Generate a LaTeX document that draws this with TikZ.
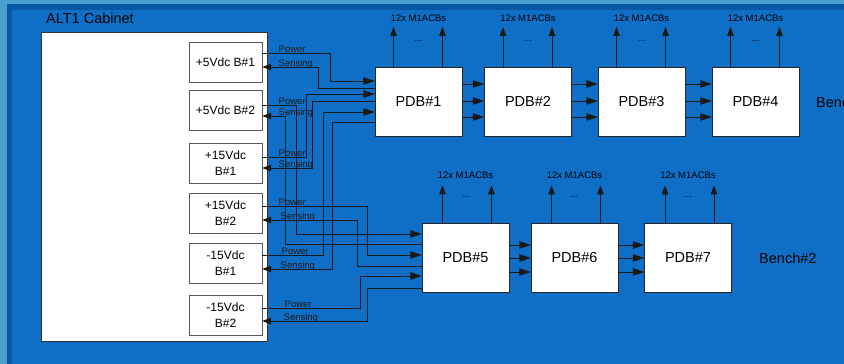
\documentclass[tikz,border=0pt]{standalone}
\usepackage{fontspec}
\setmainfont{Liberation Sans}
\usetikzlibrary{arrows.meta}
\begin{document}
\begin{tikzpicture}[x=1pt,y=-1pt,
alim/.style={draw=black!65,fill=white,minimum width=73pt,minimum height=40pt,inner sep=0pt,align=center,font=\fontsize{12}{16}\selectfont},
pdb/.style={draw=black!85,fill=white,minimum width=87pt,minimum height=69pt,inner sep=0pt,font=\fontsize{14.5}{17}\selectfont},
fil/.style={line width=1pt,black!90},
fleche/.style={fil,-{Triangle[length=9pt,width=6.5pt]}},
entree/.style={fil,-{Triangle[length=11.5pt,width=7.5pt]}},
lbl/.style={anchor=base west,inner sep=0pt,xshift=16pt,yshift=1pt,font=\fontsize{9.5}{11}\selectfont},
petit/.style={inner sep=0pt,font=\fontsize{9.5}{11}\selectfont},
grand/.style={inner sep=0pt,anchor=west,font=\fontsize{14.5}{17}\selectfont}]
\definecolor{fond}{RGB}{15,111,198}
\definecolor{fonce}{RGB}{10,88,165}
\definecolor{clair}{RGB}{75,160,210}
\fill[clair] (0,0) rectangle (844,364);
\fill[fonce] (7,4) rectangle (844,364);
\fill[fond] (12,10) rectangle (844,364);
\useasboundingbox (0,0) rectangle (844,364);
\node[draw=black!80,fill=white,minimum width=226pt,minimum height=309pt,inner sep=0pt] (cab) at (154,186.5) {};
\node[grand] (titre) at (46,18) {ALT1 Cabinet};
\node[alim] (p5a) at (225.5,62) {+5Vdc B\#1};
\node[alim] (p5b) at (225.5,110.5) {+5Vdc B\#2};
\node[alim] (p15a) at (225.5,163) {+15Vdc\\B\#1};
\node[alim] (p15b) at (225.5,213) {+15Vdc\\B\#2};
\node[alim] (m15a) at (225.5,263.5) {-15Vdc\\B\#1};
\node[alim] (m15b) at (225.5,315.5) {-15Vdc\\B\#2};
\node[pdb] (pdb1) at (418.5,101.5) {PDB\#1};
\node[pdb] (pdb2) at (528,101.5) {PDB\#2};
\node[pdb] (pdb3) at (641.5,101.5) {PDB\#3};
\node[pdb] (pdb4) at (755.5,101.5) {PDB\#4};
\node[pdb] (pdb5) at (465.5,258) {PDB\#5};
\node[pdb] (pdb6) at (574.5,258) {PDB\#6};
\node[pdb] (pdb7) at (688,258) {PDB\#7};
\node[grand] (banc1) at (816,102) {Bench\#1};
\node[grand] (banc2) at (759,258) {Bench\#2};
\node[petit] (sortie1) at ([yshift=49pt]pdb1.north) {12x M1ACBs};
\node[petit] (sortie2) at ([yshift=49pt]pdb2.north) {12x M1ACBs};
\node[petit] (sortie3) at ([yshift=49pt]pdb3.north) {12x M1ACBs};
\node[petit] (sortie4) at ([yshift=49pt]pdb4.north) {12x M1ACBs};
\node[petit] (sortie5) at ([yshift=48pt]pdb5.north) {12x M1ACBs};
\node[petit] (sortie6) at ([yshift=48pt]pdb6.north) {12x M1ACBs};
\node[petit] (sortie7) at ([yshift=48pt]pdb7.north) {12x M1ACBs};
\node[petit] (points1) at ([yshift=26pt]pdb1.north) {...};
\node[petit] (points2) at ([yshift=26pt]pdb2.north) {...};
\node[petit] (points3) at ([yshift=26pt]pdb3.north) {...};
\node[petit] (points4) at ([yshift=26pt]pdb4.north) {...};
\node[petit] (points5) at ([yshift=26pt]pdb5.north) {...};
\node[petit] (points6) at ([yshift=26pt]pdb6.north) {...};
\node[petit] (points7) at ([yshift=26pt]pdb7.north) {...};
\draw[fleche] ([xshift=-25pt]pdb1.north) -- +(0,-40);
\draw[fleche] ([xshift=24pt]pdb1.north) -- +(0,-40);
\draw[fleche] ([xshift=-25pt]pdb2.north) -- +(0,-40);
\draw[fleche] ([xshift=24pt]pdb2.north) -- +(0,-40);
\draw[fleche] ([xshift=-25pt]pdb3.north) -- +(0,-40);
\draw[fleche] ([xshift=24pt]pdb3.north) -- +(0,-40);
\draw[fleche] ([xshift=-25pt]pdb4.north) -- +(0,-40);
\draw[fleche] ([xshift=24pt]pdb4.north) -- +(0,-40);
\draw[fleche] ([xshift=-23pt]pdb5.north) -- +(0,-38);
\draw[fleche] ([xshift=26pt]pdb5.north) -- +(0,-38);
\draw[fleche] ([xshift=-23pt]pdb6.north) -- +(0,-38);
\draw[fleche] ([xshift=26pt]pdb6.north) -- +(0,-38);
\draw[fleche] ([xshift=-23pt]pdb7.north) -- +(0,-38);
\draw[fleche] ([xshift=26pt]pdb7.north) -- +(0,-38);
\draw[entree] (pdb1.east |- 0,84) -- (pdb2.west |- 0,84);
\draw[entree] (pdb1.east |- 0,101) -- (pdb2.west |- 0,101);
\draw[entree] (pdb1.east |- 0,117) -- (pdb2.west |- 0,117);
\draw[entree] (pdb2.east |- 0,84) -- (pdb3.west |- 0,84);
\draw[entree] (pdb2.east |- 0,101) -- (pdb3.west |- 0,101);
\draw[entree] (pdb2.east |- 0,117) -- (pdb3.west |- 0,117);
\draw[entree] (pdb3.east |- 0,84) -- (pdb4.west |- 0,84);
\draw[entree] (pdb3.east |- 0,101) -- (pdb4.west |- 0,101);
\draw[entree] (pdb3.east |- 0,117) -- (pdb4.west |- 0,117);
\draw[entree] (pdb5.east |- 0,245) -- (pdb6.west |- 0,245);
\draw[entree] (pdb5.east |- 0,258) -- (pdb6.west |- 0,258);
\draw[entree] (pdb5.east |- 0,272) -- (pdb6.west |- 0,272);
\draw[entree] (pdb6.east |- 0,245) -- (pdb7.west |- 0,245);
\draw[entree] (pdb6.east |- 0,258) -- (pdb7.west |- 0,258);
\draw[entree] (pdb6.east |- 0,272) -- (pdb7.west |- 0,272);
\draw[entree] (p5a.east |- 0,53) node[lbl] {Power} -| (330,81) -- (pdb1.west |- 0,81);
\draw[fleche] (pdb1.west |- 0,88) -| (318,67) -- (p5a.east |- 0,67) node[lbl] {Sensing};
\draw[entree] (p15a.east |- 0,157) node[lbl] {Power} -| (306,94) -- (pdb1.west |- 0,94);
\draw[fleche] (pdb1.west |- 0,101) -| (312,168) -- (p15a.east |- 0,168) node[lbl] {Sensing};
\draw[entree] (m15a.east |- 0,255) node[lbl,xshift=3pt] {Power} -| (323,112) -- (pdb1.west |- 0,112);
\draw[fleche] (pdb1.west |- 0,122) -| (332,269) -- (m15a.east |- 0,269) node[lbl,xshift=2pt] {Sensing};
\draw[entree] (p5b.east |- 0,105) node[lbl] {Power} -| (296,234) -- (pdb5.west |- 0,234);
\draw[fleche] (pdb5.west |- 0,244) -| (285,116) -- (p5b.east |- 0,116) node[lbl] {Sensing};
\draw[entree] (p15b.east |- 0,206) node[lbl] {Power} -| (367,255) -- (pdb5.west |- 0,255);
\draw[fleche] (pdb5.west |- 0,266) -| (357,220) -- (p15b.east |- 0,220) node[lbl,xshift=2pt] {Sensing};
\draw[entree] (m15b.east |- 0,308) node[lbl,xshift=6pt] {Power} -| (360,276) -- (pdb5.west |- 0,276);
\draw[fleche] (pdb5.west |- 0,288) -| (367,321) -- (m15b.east |- 0,321) node[lbl,xshift=5pt] {Sensing};
\end{tikzpicture}
\end{document}
